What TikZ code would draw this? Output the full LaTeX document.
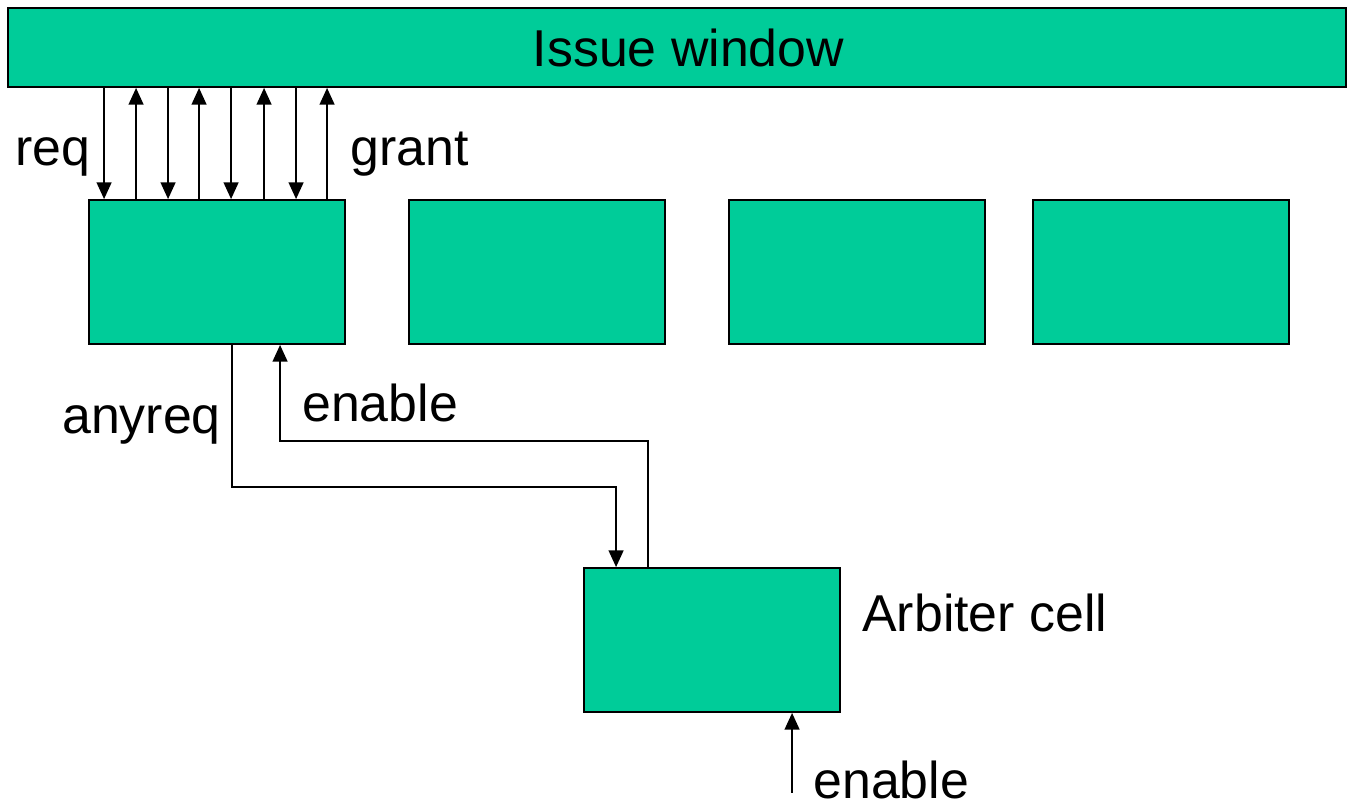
\documentclass[tikz,border=0pt]{standalone}
\usepackage{fontspec}
\setmainfont{Liberation Sans}
\usepackage{xcolor}
\usetikzlibrary{arrows.meta,positioning,calc}

\definecolor{cellgreen}{HTML}{00CC99}

\begin{document}
\begin{tikzpicture}[
  x=0.02cm, y=-0.02cm,
  font=\fontsize{29.5}{35}\selectfont,
  blk/.style={draw=black, line width=1.1pt, fill=cellgreen, minimum width=5.12cm, minimum height=2.88cm, inner sep=0pt},
  sig/.style={line width=0.8pt, -{Triangle[length=9.5pt,width=8.5pt]}},
  lbl/.style={inner sep=0pt, anchor=base west}
]
\useasboundingbox (0,0) rectangle (1354,808);

% issue window across the top
\node[blk, minimum width=26.76cm, minimum height=1.58cm] (win) at (677,47.5) {\hspace*{0.46cm}Issue window};

% row of cells under the window, and the arbiter cell
\foreach \nm/\cx in {cellA/217,cellB/537,cellC/857,cellD/1161} {
  \node[blk] (\nm) at (\cx,272) {};
}
\node[blk] (arb) at (712,640) {};

% req lines go down, grant lines go up
\foreach \d in {16,80,143,208} {
  \coordinate (q) at ($(cellA.north west)+(\d,0)$);
  \draw[sig] (q |- win.south) -- (q);
}
\foreach \d in {48,111,176,239} {
  \coordinate (g) at ($(cellA.north west)+(\d,0)$);
  \draw[sig] (g) -- (g |- win.south);
}
\node[lbl] (reqlbl) at (15,165) {req};
\node[lbl] (grantlbl) at (350,165) {grant};

% anyreq to the arbiter, enable back
\coordinate (ar) at ($(cellA.south west)+(144,0)$);
\coordinate (ain) at ($(arb.north west)+(33,0)$);
\draw[sig] (ar) |- ($(ain)+(0,-80)$) -- (ain);
\coordinate (en) at ($(cellA.south west)+(192,0)$);
\coordinate (aout) at ($(arb.north west)+(65,0)$);
\draw[sig] (aout) |- ($(en)+(0,96)$) -- (en);
\node[lbl] (anylbl) at (62,433) {anyreq};
\node[lbl] (enlbl) at (302,421) {enable};

% arbiter label and its own enable input
\node[lbl] (arblbl) at (862,631) {Arbiter cell};
\coordinate (ein) at ($(arb.south west)+(209,0)$);
\draw[sig] ($(ein)+(0,80)$) -- (ein);
\node[lbl] (enlbl2) at (813,798) {enable};
\end{tikzpicture}
\end{document}
